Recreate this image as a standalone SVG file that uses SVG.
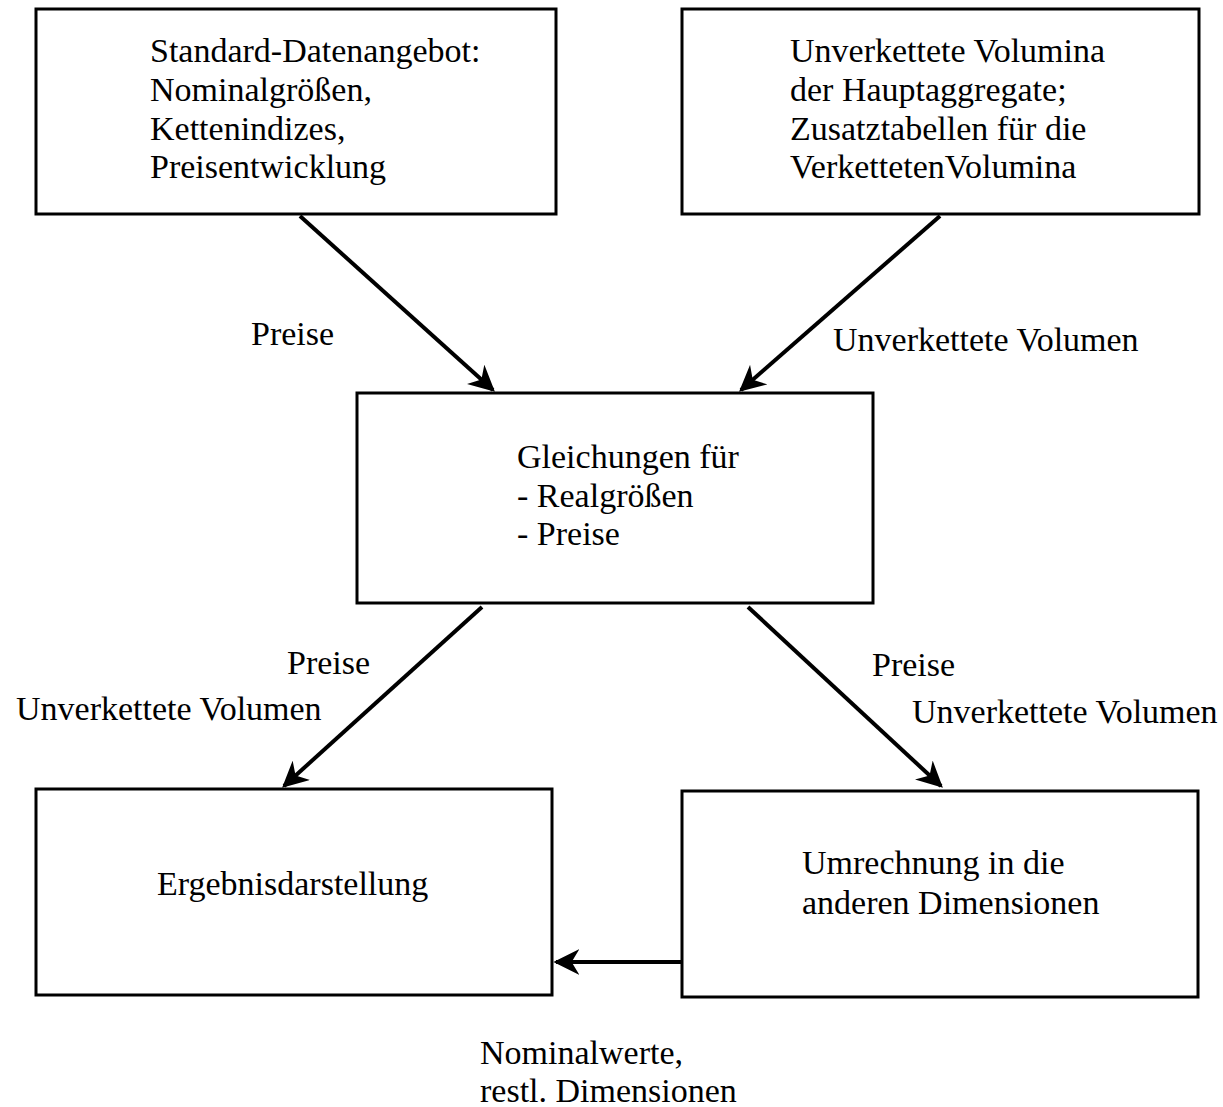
<svg xmlns="http://www.w3.org/2000/svg" width="1223" height="1107" viewBox="0 0 1223 1107">
<style>
.box{fill:#fff;stroke:#000;stroke-width:3}
.t{font-family:"Liberation Serif","Times New Roman",serif;font-size:34px;fill:#000}
.c{stroke:#000;stroke-width:4;fill:none;marker-end:url(#ah)}
</style>
<defs>
<marker id="ah" viewBox="0 0 10 10" refX="9" refY="5" markerWidth="6.5" markerHeight="6.5" markerUnits="strokeWidth" orient="auto">
<path d="M0,0 L10,5 L0,10 L3,5 Z" fill="#000"/>
</marker>
</defs>
<rect width="1223" height="1107" fill="#fff"/>
<g id="connectors">
<line class="c" x1="300" y1="216" x2="493" y2="390"/>
<line class="c" x1="940" y1="216" x2="741" y2="390"/>
<line class="c" x1="482" y1="607" x2="284" y2="786"/>
<line class="c" x1="748" y1="607" x2="941" y2="786"/>
<line class="c" x1="682" y1="962" x2="556" y2="962"/>
<text class="t" x="251" y="345">Preise</text>
<text class="t" x="833" y="351">Unverkettete Volumen</text>
<text class="t" x="287" y="674">Preise</text>
<text class="t" x="16" y="720">Unverkettete Volumen</text>
<text class="t" x="872" y="676">Preise</text>
<text class="t" x="912" y="723">Unverkettete Volumen</text>
<text class="t" x="480" y="1064">Nominalwerte,</text>
<text class="t" x="480" y="1102">restl. Dimensionen</text>
</g>
<g id="n1">
<rect class="box" x="36" y="9" width="520" height="205"/>
<text class="t" x="150" y="62">Standard-Datenangebot:</text>
<text class="t" x="150" y="101">Nominalgrößen,</text>
<text class="t" x="150" y="140">Kettenindizes,</text>
<text class="t" x="150" y="178">Preisentwicklung</text>
</g>
<g id="n2">
<rect class="box" x="682" y="9" width="517" height="205"/>
<text class="t" x="790" y="62">Unverkettete Volumina</text>
<text class="t" x="790" y="101">der Hauptaggregate;</text>
<text class="t" x="790" y="140">Zusatztabellen für die</text>
<text class="t" x="790" y="178">VerkettetenVolumina</text>
</g>
<g id="n3">
<rect class="box" x="357" y="393" width="516" height="210"/>
<text class="t" x="517" y="468">Gleichungen für</text>
<text class="t" x="517" y="507">- Realgrößen</text>
<text class="t" x="517" y="545">- Preise</text>
</g>
<g id="n4">
<rect class="box" x="36" y="789" width="516" height="206"/>
<text class="t" x="157" y="895">Ergebnisdarstellung</text>
</g>
<g id="n5">
<rect class="box" x="682" y="791" width="516" height="206"/>
<text class="t" x="802" y="874">Umrechnung in die</text>
<text class="t" x="802" y="914">anderen Dimensionen</text>
</g>
</svg>
